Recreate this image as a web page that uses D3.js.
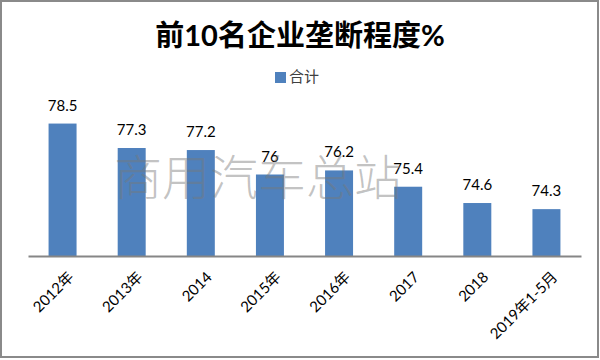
<!DOCTYPE html>
<html><head><meta charset="utf-8">
<script src="https://cdn.jsdelivr.net/npm/d3@7"></script>
<style>body{margin:0;background:#fff}svg{display:block}</style>
</head><body>
<svg id="c" width="600" height="360"></svg>
<script>
const categories = ["2012年","2013年","2014","2015年","2016年","2017","2018","2019年1-5月"];
const values = [78.5,77.3,77.2,76,76.2,75.4,74.6,74.3];
const seriesName = "合计";
const title = "前10名企业垄断程度%";
const watermark = "商用汽车总站";

const svg = d3.select("#c");
const FONT = "Lato, 'Noto Sans CJK SC', sans-serif";
svg.append("rect").attr("x",1).attr("y",1).attr("width",597).attr("height",356)
  .attr("fill","#fff").attr("stroke","#8a8a8a").attr("stroke-width",2);

const x = d3.scaleBand().domain(categories).range([28,581]).paddingInner(0.595).paddingOuter(0.2975);
const y = d3.scaleLinear().domain([72,80]).range([256,93]);

svg.append("text").attr("x",300).attr("y",46).attr("text-anchor","middle")
  .attr("font-family",FONT).attr("font-weight","bold").attr("font-size",29).attr("fill","#000").text(title);

const lg = svg.append("g");
lg.append("rect").attr("x",275).attr("y",72).attr("width",11).attr("height",11).attr("fill","#4F81BD");
lg.append("text").attr("x",289).attr("y",82).attr("font-family",FONT).attr("font-size",15).attr("fill","#404040").text(seriesName);

svg.selectAll(".bar").data(values).enter().append("rect")
  .attr("x",(d,i)=>x(categories[i])).attr("y",d=>y(d))
  .attr("width",x.bandwidth()).attr("height",d=>y(72)-y(d))
  .attr("fill","#4F81BD");

svg.selectAll(".lbl").data(values).enter().append("text")
  .attr("x",(d,i)=>x(categories[i])+x.bandwidth()/2).attr("y",d=>y(d)-13)
  .attr("text-anchor","middle").attr("font-family",FONT).attr("font-size",15).attr("fill","#000")
  .text(d=>d);

const axis = d3.axisBottom(x).tickSize(0).tickPadding(0);
const ag = svg.append("g").attr("transform","translate(0,256)").call(axis);
ag.select(".domain").attr("stroke","#868686").attr("stroke-width",2);
ag.selectAll(".tick text")
  .attr("font-family",FONT).attr("font-size",15).attr("fill","#000")
  .attr("text-anchor","end").attr("dy",null).attr("y",0)
  .attr("transform","translate(12,22) rotate(-45)");

svg.append("text").attr("x",258).attr("y",195).attr("text-anchor","middle")
  .attr("font-family","'Noto Sans CJK SC', sans-serif").attr("font-weight",300)
  .attr("font-size",48).attr("fill","rgba(120,120,120,0.45)").text(watermark);
</script>
</body></html>
